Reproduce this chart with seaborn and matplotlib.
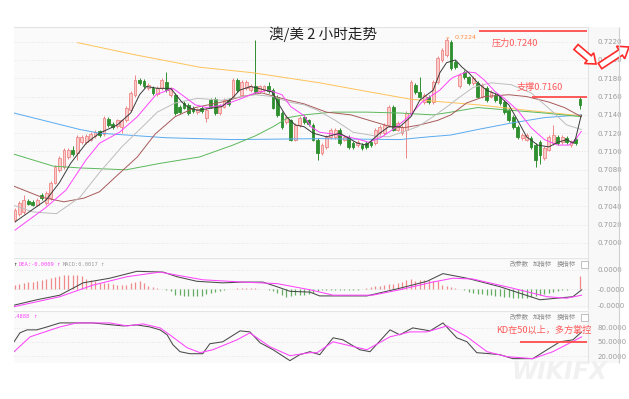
import numpy as np
import pandas as pd
import matplotlib
matplotlib.use("Agg")
import matplotlib.pyplot as plt
import seaborn as sns
from matplotlib.patches import Rectangle, FancyArrow

# ---------------- data ----------------
opens = [0.7025, 0.7032, 0.7034, 0.7046, 0.7045, 0.7042, 0.7052, 0.7044, 0.7049, 0.7066,
         0.7080, 0.7083, 0.7094, 0.7102, 0.7098, 0.7110, 0.7110, 0.7113, 0.7117, 0.7122,
         0.7119, 0.7136, 0.7130, 0.7128, 0.7127, 0.7134, 0.7145, 0.7162, 0.7178, 0.7177,
         0.7169, 0.7169, 0.7163, 0.7169, 0.7176, 0.7162, 0.7162, 0.7149, 0.7153, 0.7151,
         0.7148, 0.7143, 0.7148, 0.7137, 0.7156, 0.7157, 0.7142, 0.7149, 0.7156, 0.7160,
         0.7178, 0.7162, 0.7169, 0.7167, 0.7171, 0.7166, 0.7167, 0.7171, 0.7167, 0.7160,
         0.7142, 0.7132, 0.7134, 0.7113, 0.7129, 0.7138, 0.7134, 0.7129, 0.7113, 0.7098,
         0.7105, 0.7116, 0.7116, 0.7124, 0.7113, 0.7116, 0.7109, 0.7107, 0.7107, 0.7109,
         0.7110, 0.7109, 0.7120, 0.7120, 0.7129, 0.7149, 0.7124, 0.7120, 0.7124, 0.7142,
         0.7173, 0.7165, 0.7154, 0.7160, 0.7154, 0.7176, 0.7200, 0.7205, 0.7220, 0.7198,
         0.7171, 0.7187, 0.7181, 0.7175, 0.7175, 0.7160, 0.7169, 0.7160, 0.7162, 0.7160,
         0.7154, 0.7145, 0.7138, 0.7127, 0.7115, 0.7113, 0.7115, 0.7107, 0.7110, 0.7093,
         0.7102, 0.7109, 0.7116, 0.7110, 0.7115, 0.7107, 0.7114, 0.7157]
closes = [0.7036, 0.7044, 0.7047, 0.7043, 0.7042, 0.7047, 0.7049, 0.7055, 0.7066, 0.7083,
          0.7093, 0.7102, 0.7102, 0.7097, 0.7116, 0.7116, 0.7117, 0.7119, 0.7121, 0.7118,
          0.7137, 0.7129, 0.7127, 0.7134, 0.7134, 0.7148, 0.7164, 0.7178, 0.7175, 0.7171,
          0.7173, 0.7164, 0.7169, 0.7178, 0.7167, 0.7168, 0.7142, 0.7143, 0.7148, 0.7142,
          0.7144, 0.7146, 0.7144, 0.7145, 0.7149, 0.7142, 0.7150, 0.7156, 0.7152, 0.7178,
          0.7167, 0.7176, 0.7176, 0.7172, 0.7165, 0.7171, 0.7171, 0.7166, 0.7148, 0.7140,
          0.7127, 0.7138, 0.7113, 0.7129, 0.7137, 0.7132, 0.7130, 0.7113, 0.7098, 0.7107,
          0.7116, 0.7124, 0.7124, 0.7109, 0.7116, 0.7105, 0.7105, 0.7110, 0.7104, 0.7105,
          0.7107, 0.7124, 0.7127, 0.7129, 0.7149, 0.7124, 0.7131, 0.7127, 0.7142, 0.7176,
          0.7165, 0.7160, 0.7162, 0.7154, 0.7176, 0.7202, 0.7211, 0.7222, 0.7191, 0.7192,
          0.7184, 0.7181, 0.7175, 0.7180, 0.7160, 0.7173, 0.7156, 0.7165, 0.7156, 0.7153,
          0.7143, 0.7134, 0.7127, 0.7116, 0.7118, 0.7118, 0.7105, 0.7091, 0.7096, 0.7104,
          0.7116, 0.7118, 0.7109, 0.7116, 0.7110, 0.7111, 0.7109, 0.7151]
highs = [0.7038, 0.7046, 0.7052, 0.7048, 0.7047, 0.7049, 0.7055, 0.7057, 0.7068, 0.7085,
         0.7095, 0.7104, 0.7104, 0.7106, 0.7118, 0.7118, 0.7119, 0.7121, 0.7123, 0.7124,
         0.7139, 0.7138, 0.7132, 0.7136, 0.7136, 0.7150, 0.7166, 0.7184, 0.7180, 0.7179,
         0.7175, 0.7171, 0.7171, 0.7180, 0.7187, 0.7170, 0.7164, 0.7151, 0.7155, 0.7153,
         0.7150, 0.7148, 0.7150, 0.7147, 0.7158, 0.7159, 0.7152, 0.7158, 0.7158, 0.7180,
         0.7180, 0.7178, 0.7178, 0.7174, 0.7222, 0.7173, 0.7173, 0.7176, 0.7169, 0.7162,
         0.7144, 0.7140, 0.7136, 0.7131, 0.7139, 0.7140, 0.7136, 0.7131, 0.7115, 0.7109,
         0.7118, 0.7126, 0.7126, 0.7126, 0.7118, 0.7118, 0.7111, 0.7112, 0.7109, 0.7111,
         0.7112, 0.7126, 0.7129, 0.7131, 0.7151, 0.7151, 0.7133, 0.7129, 0.7144, 0.7178,
         0.7175, 0.7181, 0.7164, 0.7162, 0.7178, 0.7204, 0.7213, 0.7224, 0.7222, 0.7200,
         0.7186, 0.7189, 0.7183, 0.7182, 0.7177, 0.7175, 0.7171, 0.7167, 0.7164, 0.7162,
         0.7156, 0.7147, 0.7140, 0.7129, 0.7120, 0.7120, 0.7117, 0.7109, 0.7112, 0.7106,
         0.7118, 0.7129, 0.7118, 0.7118, 0.7117, 0.7113, 0.7116, 0.7159]
lows = [0.7023, 0.7030, 0.7032, 0.7041, 0.7040, 0.7040, 0.7047, 0.7042, 0.7047, 0.7064,
        0.7078, 0.7081, 0.7092, 0.7095, 0.7091, 0.7108, 0.7108, 0.7111, 0.7115, 0.7116,
        0.7117, 0.7127, 0.7125, 0.7126, 0.7120, 0.7132, 0.7143, 0.7160, 0.7173, 0.7169,
        0.7167, 0.7162, 0.7161, 0.7167, 0.7165, 0.7160, 0.7140, 0.7141, 0.7146, 0.7140,
        0.7142, 0.7141, 0.7142, 0.7132, 0.7147, 0.7140, 0.7140, 0.7147, 0.7150, 0.7158,
        0.7165, 0.7160, 0.7167, 0.7165, 0.7163, 0.7164, 0.7165, 0.7164, 0.7146, 0.7138,
        0.7125, 0.7130, 0.7111, 0.7111, 0.7127, 0.7130, 0.7128, 0.7111, 0.7091, 0.7096,
        0.7103, 0.7114, 0.7114, 0.7107, 0.7111, 0.7103, 0.7103, 0.7105, 0.7102, 0.7103,
        0.7105, 0.7107, 0.7118, 0.7118, 0.7127, 0.7122, 0.7122, 0.7118, 0.7093, 0.7140,
        0.7163, 0.7158, 0.7152, 0.7152, 0.7152, 0.7174, 0.7198, 0.7203, 0.7189, 0.7190,
        0.7169, 0.7179, 0.7173, 0.7173, 0.7158, 0.7158, 0.7154, 0.7158, 0.7154, 0.7151,
        0.7141, 0.7132, 0.7125, 0.7114, 0.7113, 0.7111, 0.7103, 0.7083, 0.7086, 0.7091,
        0.7100, 0.7107, 0.7107, 0.7108, 0.7108, 0.7105, 0.7107, 0.7146]

# moving averages (candle index, price)
ma5_idx = [0, 7, 10, 12.5, 16, 19, 23, 26, 28, 29.6, 32, 35, 37.5, 39, 41, 46.5, 49, 50.5, 53, 55.5,
           57.8, 59, 61, 63, 65, 67, 70, 73, 77, 79, 82, 84, 86.5, 89, 91, 94, 95.5, 97, 99, 100.5,
           102, 104, 106, 108.5, 111, 113, 115, 117.5, 120, 122, 124, 125.5, 126, 127.3]
ma5_val = [0.7023, 0.7047, 0.7066, 0.7087, 0.7109, 0.7120, 0.7129, 0.7142, 0.7162, 0.7171, 0.7169,
           0.7169, 0.7154, 0.7148, 0.7145, 0.7149, 0.7159, 0.7167, 0.7171, 0.7168, 0.7165, 0.7154,
           0.7138, 0.7129, 0.7127, 0.7120, 0.7116, 0.7120, 0.7109, 0.7107, 0.7120, 0.7127, 0.7127,
           0.7138, 0.7156, 0.7167, 0.7186, 0.7197, 0.7200, 0.7192, 0.7186, 0.7175, 0.7167, 0.7162,
           0.7151, 0.7134, 0.7116, 0.7107, 0.7105, 0.7110, 0.7113, 0.7109, 0.7114, 0.7140]
ma10_idx = [0, 7, 11.5, 16, 19, 23.5, 27.5, 31.7, 35.5, 37.5, 40.5, 43, 47, 51, 54, 57, 60, 62, 65,
            66.5, 68.5, 73, 77.5, 79.5, 82.5, 85.5, 88.5, 91.5, 95.5, 97.7, 98.5, 101.5, 103.5, 105.5,
            108, 110, 113, 116, 119, 122, 124.5, 126, 127.3]
ma10_val = [0.7014, 0.7039, 0.7058, 0.7091, 0.7109, 0.7121, 0.7138, 0.7162, 0.7169, 0.7162, 0.7151,
            0.7148, 0.7151, 0.7158, 0.7164, 0.7167, 0.7162, 0.7149, 0.7139, 0.7127, 0.7121, 0.7118,
            0.7113, 0.7110, 0.7116, 0.7126, 0.7138, 0.7154, 0.7167, 0.7178, 0.7181, 0.7187, 0.7186,
            0.7178, 0.7165, 0.7158, 0.7145, 0.7126, 0.7113, 0.7107, 0.7107, 0.7113, 0.7122]
ma20_idx = [-0.2, 4, 9.3, 14.6, 19, 24, 29.5, 32, 36, 41, 46.5, 51, 54, 58, 61.5, 65, 68, 72, 76,
            81, 84, 87, 90.5, 94, 97.7, 99, 103, 107, 111.5, 116, 120.5, 124, 127.3]
ma20_val = [0.7041, 0.7034, 0.7032, 0.7050, 0.7077, 0.7105, 0.7131, 0.7143, 0.7153, 0.7158, 0.7156,
            0.7160, 0.7162, 0.7160, 0.7154, 0.7151, 0.7145, 0.7134, 0.7121, 0.7117, 0.7116, 0.7121,
            0.7127, 0.7138, 0.7151, 0.7156, 0.7170, 0.7175, 0.7173, 0.7164, 0.7145, 0.7129, 0.7124]
ma40_idx = [-0.2, 6, 11, 15.5, 19, 23, 27.5, 31.5, 36, 40.5, 46.5, 51, 55.5, 58.5, 61.5, 65, 70,
            75.5, 81, 84.5, 87.5, 91, 95, 98, 101.5, 105.5, 111, 115, 120, 123.5, 127.3]
ma40_val = [0.7062, 0.7050, 0.7045, 0.7049, 0.7056, 0.7074, 0.7094, 0.7119, 0.7138, 0.7148, 0.7154,
            0.7160, 0.7164, 0.7160, 0.7156, 0.7152, 0.7143, 0.7140, 0.7132, 0.7127, 0.7126, 0.7129,
            0.7134, 0.7140, 0.7153, 0.7160, 0.7162, 0.7160, 0.7154, 0.7148, 0.7138]
ma60_idx = [-0.2, 8.6, 14.6, 25, 32.6, 41.5, 49, 54, 58, 61.4, 65, 71.5, 79, 86.5, 94, 98, 104,
            111.5, 119, 127.3]
ma60_val = [0.7097, 0.7084, 0.7082, 0.7080, 0.7087, 0.7094, 0.7107, 0.7117, 0.7127, 0.7137, 0.7140,
            0.7143, 0.7143, 0.7142, 0.7140, 0.7143, 0.7148, 0.7145, 0.7142, 0.7138]
ma120_idx = [14, 26.6, 41.6, 53.5, 68.5, 77.5, 89, 104, 115, 127.3]
ma120_val = [0.7219, 0.7206, 0.7192, 0.7186, 0.7175, 0.7167, 0.7157, 0.7151, 0.7145, 0.7139]
ma250_idx = [-0.2, 14.6, 19, 34, 49, 68.5, 86.5, 93, 98, 104, 111.5, 119, 127.3]
ma250_val = [0.7142, 0.7124, 0.7120, 0.7115, 0.7113, 0.7114, 0.7113, 0.7116, 0.7118, 0.7124,
             0.7131, 0.7137, 0.7140]

# MACD (units of 1e-4)
macd_hist = [5.6, 6.5, 7.8, 8.5, 9.1, 9.8, 11.1, 12.4, 13.7, 15.0, 16.3, 17.8, 17.8, 17.8, 17.6,
             16.5, 13.4, 12.1, 10.0, 7.8, 7.8, 7.8, 6.5, 5.6, 4.8, 4.8, 7.2, 9.1, 10.0, 7.8, 3.9,
             2.0, 1.3, 0.4, -1.3, -3.0, -7.4, -8.2, -9.1, -9.1, -9.1, -9.1, -8.5, -6.5, -5.2, -3.9,
             -2.0, -0.9, -0.4, 0.0, 0.7, 1.3, 1.3, 1.3, 0.7, 0.0, 0.0, -0.7, -3.0, -5.2, -7.4, -10.4,
             -9.5, -7.8, -7.2, -7.2, -6.5, -5.2, -2.2, -0.9, -0.7, -0.7, -0.7, -0.7, -0.7, -0.7,
             -0.7, -0.7, -0.5, 1.3, 2.6, 3.3, 3.9, 4.6, 6.5, 5.9, 7.8, 9.1, 11.7, 12.4, 9.8, 11.7,
             11.7, 11.1, 10.4, 9.8, 5.2, 3.9, 2.0, 0.7, 0.0, -1.3, -3.9, -5.2, -5.9, -6.5, -7.2,
             -7.8, -8.5, -9.1, -9.8, -10.4, -11.1, -11.7, -11.7, -11.1, -10.4, -9.1, -7.8, -5.9,
             -4.6, -3.3, -2.0, -0.7, -0.7, -0.4, -0.4, 16.5]
dif_idx = [-0.2, 4.9, 10.1, 15.3, 21.3, 27.4, 33.3, 36.4, 40.9, 46.7, 51.2, 55.7, 58.9, 61.8, 66.3,
           68.5, 79.1, 86.5, 92.6, 96.2, 101.6, 109, 118, 125.4, 127.4]
dif_val = [-21, -14, -8, 8, 14, 23, 22, 16, 10, 8, 9, 9, 3, -3, -4, -9, -9, 1, 10, 20, 14, 3, -14,
           -10, -1]
dea_idx = [-0.2, 10.1, 17.5, 25.2, 32.6, 36.4, 42.2, 51.2, 58.9, 66.3, 71.5, 80.4, 86.5, 93.9,
           98.4, 102.9, 111.9, 119.6, 124, 127.4]
dea_val = [-23, -10, 5, 16, 22, 18, 12, 9, 7, -1, -8, -8, -1, 9, 14, 13, 1, -10, -12, -8]
macd_ticks = [24.7, 0.0, -22.0]
macd_tick_labels = ["0.0000", "-0.0000", "-0.0000"]

# KD
k_idx = [-0.2, 1.1, 2.7, 4.9, 7.2, 10.1, 13.9, 17.5, 22, 24.3, 27.4, 30.3, 32.6, 34.2, 35.5, 37.1,
         39.3, 42.2, 43.8, 46.7, 50.6, 52.8, 55.1, 58, 61.8, 64, 66.3, 68.5, 71.5, 73.7, 77.5,
         79.8, 84.3, 86.5, 89.4, 93.3, 96.2, 99.3, 101.6, 103.8, 106.7, 109, 111.9, 116.4, 119.6,
         122.5, 125.4, 127.4]
k_val = [50.4, 69.4, 75.8, 75.8, 82.1, 90.6, 90.6, 90.6, 86.3, 84.2, 86.3, 82.1, 75.8, 65.2, 44.1,
         29.3, 25.0, 25.0, 46.2, 50.4, 73.7, 71.5, 48.3, 33.5, 10.2, 22.9, 29.3, 22.9, 58.9, 54.6,
         33.5, 29.3, 75.8, 65.2, 80.0, 73.7, 90.6, 58.9, 50.4, 27.2, 25.0, 22.9, 14.5, 14.5, 33.5,
         50.4, 54.6, 71.5]
d_idx = [-0.2, 3.4, 10.1, 13.9, 21.3, 25.2, 28.8, 32.6, 34.8, 38.7, 41.6, 44.5, 49.9, 52.8, 57.3,
         61.8, 66.3, 67.9, 71.5, 79.1, 84.3, 88.8, 92.6, 97.1, 101.6, 106.1, 110.6, 116.4, 120.9,
         127.4]
d_val = [29.3, 61.0, 82.1, 90.6, 90.6, 84.2, 88.5, 80.0, 65.2, 37.7, 27.2, 33.5, 54.6, 69.4, 39.8,
         20.8, 27.2, 27.2, 50.4, 33.5, 61.0, 71.5, 71.5, 84.2, 61.0, 29.3, 18.7, 14.5, 29.3, 61.0]
kd_ticks = [80, 50, 20]
kd_tick_labels = ["80.0000", "50.0000", "20.0000"]

price_ticks = [0.7000, 0.7020, 0.7040, 0.7060, 0.7080, 0.7100, 0.7120, 0.7140, 0.7160, 0.7180,
               0.7200, 0.7220]
resistance_label = "压力0.7240"
support_label = "支撑0.7160"
resistance_level = 0.7232
support_level = 0.7160
kd_note = "KD在50以上，多方掌控"
kd_level = 50
title = "澳/美 2 小时走势"

# ---------------- figure ----------------
sns.set_style("white")
plt.rcParams['font.family'] = ['DejaVu Sans', 'Noto Sans CJK SC']
CJK = ['Noto Sans CJK SC', 'DejaVu Sans']

W, H = 629, 399
fig = plt.figure(figsize=(W / 100, H / 100), dpi=100)
fig.patch.set_facecolor('white')


def rect(x0, y0, x1, y1):
    return [x0 / W, 1 - y1 / H, (x1 - x0) / W, (y1 - y0) / H]


def fpt(x, y):
    return (x / W, 1 - y / H)


# right label strip background
fig.patches.append(Rectangle((588 / W, 1 - 363 / H), 31 / W, 336 / H, transform=fig.transFigure,
                             facecolor='#f8f8f8', edgecolor='none', zorder=-5))

ax = fig.add_axes(rect(14, 27, 588, 257))
axm = fig.add_axes(rect(14, 258, 588, 309))
axk = fig.add_axes(rect(14, 311, 588, 363))

BG = '#fafafa'
GRID = '#dedede'
for a in (ax, axm, axk):
    a.set_facecolor(BG)
    for s in a.spines.values():
        s.set_visible(False)
    a.spines['top'].set_visible(True)
    a.spines['top'].set_color('#e4e4e4')
    a.spines['top'].set_linewidth(0.8)
    a.spines['right'].set_visible(True)
    a.spines['right'].set_color('#e4e4e4')
    a.set_xlim(-0.22, 128.8)
    a.set_xticks([])
    a.yaxis.tick_right()
    a.tick_params(axis='y', length=0, pad=7, labelsize=5, labelcolor='#9a9a9a')

# ----- candles -----
df = pd.DataFrame({'open': opens, 'close': closes, 'high': highs, 'low': lows})
df['idx'] = np.arange(len(df))
df['up'] = df['close'] >= df['open']
df['bottom'] = df[['open', 'close']].min(axis=1)
df['height'] = (df['close'] - df['open']).abs().clip(lower=0.00004)
UP_FACE, UP_EDGE = '#f9cccc', '#ef8585'
DN_FACE, DN_EDGE = '#2e8f2e', '#2e8f2e'
for up, face, edge in ((True, UP_FACE, UP_EDGE), (False, DN_FACE, DN_EDGE)):
    sub = df[df['up'] == up]
    ax.vlines(sub['idx'], sub['low'], sub['high'], color=edge, lw=0.7, zorder=2)
    ax.bar(sub['idx'], sub['height'], bottom=sub['bottom'], width=0.62, color=face,
           edgecolor=edge, linewidth=0.6, zorder=2.5)

ma_specs = [
    (ma250_idx, ma250_val, '#5aaaf0'),
    (ma120_idx, ma120_val, '#ffc35a'),
    (ma60_idx, ma60_val, '#5cb85c'),
    (ma40_idx, ma40_val, '#a85a5a'),
    (ma20_idx, ma20_val, '#bdbdbd'),
    (ma10_idx, ma10_val, '#ff44ff'),
    (ma5_idx, ma5_val, '#3a3a3a'),
]
for k, (ix, vals, col) in enumerate(ma_specs):
    sns.lineplot(x=ix, y=vals, ax=ax, color=col, lw=0.7, estimator=None, sort=False,
                 legend=False, zorder=3 + k * 0.1)

ax.set_ylim(0.69847, 0.72360)
ax.set_yticks(price_ticks)
ax.set_yticklabels([f"{t:.4f}" for t in price_ticks])
ax.grid(axis='y', linestyle=(0, (1, 2)), color=GRID, lw=0.6)
ax.set_axisbelow(True)

# max marker
imax = int(np.argmax(highs))
ax.annotate(f"{highs[imax]:.4f}", xy=(imax, highs[imax]), xytext=(6, 0), textcoords='offset points',
            fontsize=4.6, color='#ff8c42', va='center', ha='left',
            arrowprops=dict(arrowstyle='-', color='#ff8c42', lw=0.6))

# resistance / support
ax.hlines(resistance_level, 104.2, 128.6, color='#ff4d4d', lw=1.3, zorder=6)
ax.hlines(support_level, 116.2, 128.6, color='#ff4d4d', lw=1.3, zorder=6)
fig.text(*fpt(515, 43), resistance_label, color='#ff5a5a', fontsize=6.6, family=CJK,
         ha='center', va='center')
fig.text(*fpt(540, 87), support_label, color='#ff5a5a', fontsize=6.6, family=CJK,
         ha='center', va='center')

# ----- MACD -----
hist = pd.DataFrame({'idx': np.arange(len(macd_hist)), 'v': macd_hist})
pos = hist[hist['v'] >= 0]
neg = hist[hist['v'] < 0]
axm.vlines(pos['idx'], 0, pos['v'], color='#f08a8a', lw=0.9, zorder=2)
axm.vlines(neg['idx'], 0, neg['v'], color='#63ad63', lw=0.9, zorder=2)
sns.lineplot(x=dif_idx, y=dif_val, ax=axm, color='#4a4a4a', lw=0.75, estimator=None, sort=False,
             legend=False, zorder=3)
sns.lineplot(x=dea_idx, y=dea_val, ax=axm, color='#ff44ff', lw=0.75, estimator=None, sort=False,
             legend=False, zorder=3)
axm.set_ylim(-26, 40.3)
axm.set_yticks(macd_ticks)
axm.set_yticklabels(macd_tick_labels)
axm.grid(axis='y', linestyle=(0, (1, 2)), color=GRID, lw=0.6)
axm.set_axisbelow(True)

# ----- KD -----
sns.lineplot(x=k_idx, y=k_val, ax=axk, color='#4a4a4a', lw=0.75, estimator=None, sort=False,
             legend=False, zorder=3)
sns.lineplot(x=d_idx, y=d_val, ax=axk, color='#ff44ff', lw=0.75, estimator=None, sort=False,
             legend=False, zorder=3)
axk.set_ylim(5.2, 116)
axk.set_yticks(kd_ticks)
axk.set_yticklabels(kd_tick_labels)
axk.grid(axis='y', linestyle=(0, (1, 2)), color=GRID, lw=0.6)
axk.set_axisbelow(True)
axk.hlines(kd_level, 113.5, 128.6, color='#ff4d4d', lw=1.3, zorder=6)
fig.text(*fpt(544, 330), kd_note, color='#ff5a5a', fontsize=6.6, family=CJK,
         ha='center', va='center')

for a in (ax, axm, axk):
    a.set_xlabel('')
    a.set_ylabel('')
    a.set_xlim(-0.22, 128.8)

# ----- headers -----
MONO = ['DejaVu Sans Mono']
fig.text(*fpt(13, 264), "↑", color='#333333', fontsize=4.2, family=MONO, va='center')
fig.text(*fpt(19, 264), "DEA:-0.0009", color='#ff44ff', fontsize=3.9, family=MONO, va='center')
fig.text(*fpt(56, 264), "↑", color='#ff44ff', fontsize=4.2, family=MONO, va='center')
fig.text(*fpt(63, 264), "MACD:0.0017", color='#9a9a9a', fontsize=3.9, family=MONO, va='center')
fig.text(*fpt(100, 264), "↑", color='#9a9a9a', fontsize=4.2, family=MONO, va='center')
fig.text(*fpt(14, 317), ".4888", color='#ff44ff', fontsize=3.9, family=MONO, va='center')
fig.text(*fpt(33, 317), "↑", color='#ff44ff', fontsize=4.2, family=MONO, va='center')

for yy in (264, 317):
    for xx, word in ((510, "改参数"), (533, "加指标"), (557, "换指标")):
        fig.text(*fpt(xx, yy), word, color='#8a8a8a', fontsize=4.6, family=CJK, va='center')
    fig.patches.append(Rectangle((581 / W, 1 - (yy + 3.5) / H), 6.5 / W, 7 / H,
                                 transform=fig.transFigure, facecolor='white',
                                 edgecolor='#aaaaaa', lw=0.5, zorder=5))
    fig.text(*fpt(584.3, yy), "×", color='#999999', fontsize=4.5, ha='center', va='center')

# title
fig.text(*fpt(323, 34), title, fontsize=10.5, family=CJK, ha='center', va='center',
         color='#222222')

# overlay for decorations
ov = fig.add_axes([0, 0, 1, 1], zorder=20)
ov.set_xlim(0, W)
ov.set_ylim(H, 0)
ov.axis('off')
ov.patch.set_alpha(0)
ov.add_patch(FancyArrow(600, 66, 29, -19, width=6.5, head_width=15, head_length=10,
                        length_includes_head=True, facecolor='white', edgecolor='#ff2a2a', lw=1.2))
ov.add_patch(FancyArrow(576, 47, 20, 17, width=6.5, head_width=14, head_length=9,
                        length_includes_head=True, facecolor='white', edgecolor='#ff2a2a', lw=1.2))
ov.vlines(619, 27, 363, color='#d0d0d0', lw=0.8)
ov.text(560, 372, "WIKIFX", fontsize=17, color='#f1f1f1', ha='center', va='center',
        fontweight='bold', style='italic', zorder=1)

fig.savefig("out.png", dpi=100, facecolor='white')
